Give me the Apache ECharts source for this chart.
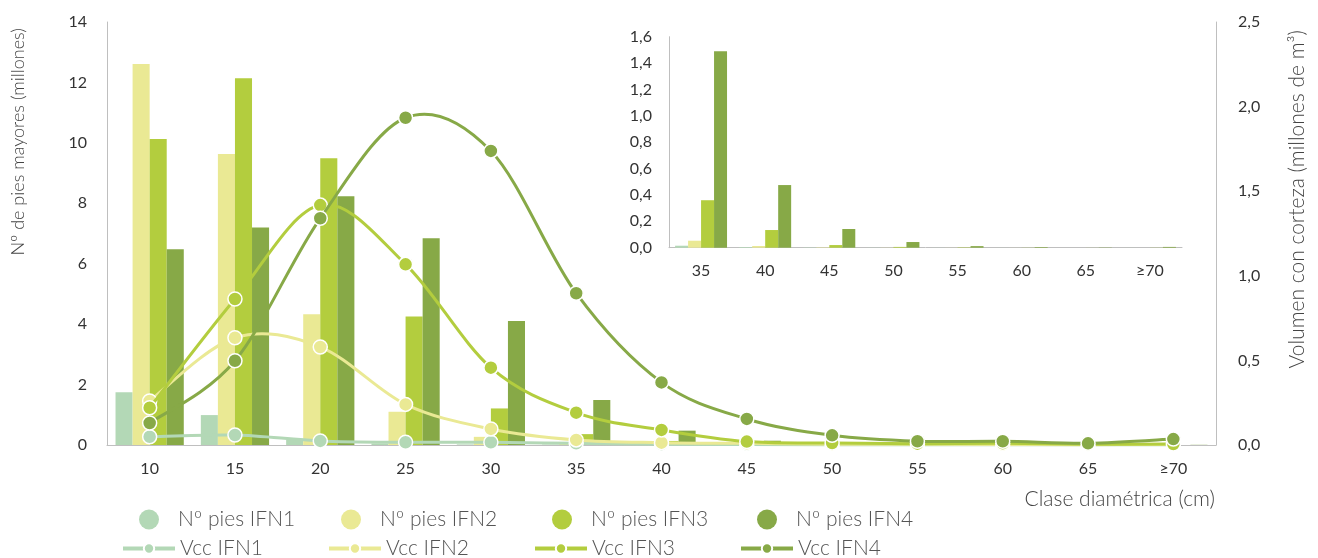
<!DOCTYPE html>
<html>
<head>
<meta charset="utf-8">
<script src="https://cdn.jsdelivr.net/npm/echarts@6/dist/echarts.min.js"></script>
<style>
html,body{margin:0;padding:0;background:#fff;}
#c{width:1318px;height:558px;}
</style>
</head>
<body>
<div id="c"></div>
<script>
// ---- Data ----
const categories = ['10','15','20','25','30','35','40','45','50','55','60','65','≥70'];
const insetStart = 5; // inset shows classes 35 .. ≥70
const leftTicks = [0, 14, 2];   // min, max, interval (millones de pies)
const rightTicks = [0, 2.5, 0.5]; // min, max, interval (millones de m3)
const insetTicks = [0, 1.6, 0.2];

const piesIFN1 = [1.75, 0.99, 0.17, 0.05, 0.02, 0.015, 0.005, 0.002, 0.001, 0.0005, 0.0003, 0.0002, 0.0003];
const piesIFN2 = [12.61, 9.63, 4.33, 1.10, 0.27, 0.053, 0.013, 0.003, 0.001, 0.0005, 0.0003, 0.0002, 0.0002];
const piesIFN3 = [10.13, 12.14, 9.49, 4.25, 1.21, 0.36, 0.134, 0.02, 0.006, 0.003, 0.001, 0.0005, 0.001];
const piesIFN4 = [6.48, 7.20, 8.23, 6.84, 4.10, 1.49, 0.475, 0.142, 0.043, 0.012, 0.005, 0.002, 0.006];

const vccIFN1 = [0.049, 0.059, 0.024, 0.016, 0.016, 0.010, 0.005, 0.003, 0.002, 0.001, 0.001, 0.001, 0.001];
const vccIFN2 = [0.26, 0.634, 0.579, 0.24, 0.095, 0.030, 0.014, 0.010, 0.005, 0.004, 0.003, 0.002, 0.003];
const vccIFN3 = [0.22, 0.863, 1.418, 1.068, 0.457, 0.191, 0.089, 0.020, 0.012, 0.008, 0.010, 0.004, 0.006];
const vccIFN4 = [0.13, 0.498, 1.34, 1.934, 1.738, 0.897, 0.37, 0.154, 0.057, 0.022, 0.022, 0.010, 0.035];

const piesNames = ['Nº pies IFN1', 'Nº pies IFN2', 'Nº pies IFN3', 'Nº pies IFN4'];
const vccNames = ['Vcc IFN1', 'Vcc IFN2', 'Vcc IFN3', 'Vcc IFN4'];
const leftTitle = 'Nº de pies mayores (millones)';
const rightTitle = 'Volumen con corteza (millones de m³)';
const xTitle = 'Clase diamétrica (cm)';

// ---- Style ----
const colors = ['#B3D8B6', '#EAE994', '#B3CD3E', '#87A947'];
const FONT = 'Lato';
const labelColor = '#333';
const axisGray = '#BFBFBF';
const comma = v => v.toFixed(1).replace('.', ',');

const piesData = [piesIFN1, piesIFN2, piesIFN3, piesIFN4];
const vccData = [vccIFN1, vccIFN2, vccIFN3, vccIFN4];

// Spreadsheet-style smoothed segment between point i and i+1 (Catmull-Rom, tension 1/6),
// computed from the data values through the chart's own coordinate system.
function curveRenderer(d, color) {
  return function (params, api) {
    const i = params.dataIndex;
    const n = d.length;
    if (i >= n - 1) return null;
    const P = j => { const k = Math.max(0, Math.min(n - 1, j)); return api.coord([k, d[k]]); };
    const p0 = P(i - 1), p1 = P(i), p2 = P(i + 1), p3 = P(i + 2);
    const t = 1 / 6;
    return {
      type: 'bezierCurve',
      shape: {
        x1: p1[0], y1: p1[1], x2: p2[0], y2: p2[1],
        cpx1: p1[0] + (p2[0] - p0[0]) * t, cpy1: p1[1] + (p2[1] - p0[1]) * t,
        cpx2: p2[0] - (p3[0] - p1[0]) * t, cpy2: p2[1] - (p3[1] - p1[1]) * t
      },
      style: { stroke: color, lineWidth: 3, fill: null, lineCap: 'round' }
    };
  };
}

const series = [];
piesData.forEach((d, i) => {
  series.push({
    name: piesNames[i], type: 'bar', xAxisIndex: 0, yAxisIndex: 0,
    data: d, barGap: '0%', barCategoryGap: '20%',
    itemStyle: { color: colors[i] }, z: 2
  });
});
piesData.forEach((d, i) => {
  series.push({
    name: piesNames[i], type: 'bar', xAxisIndex: 1, yAxisIndex: 2,
    data: d.slice(insetStart), barGap: '0%', barCategoryGap: '19%',
    itemStyle: { color: colors[i] }, z: 2
  });
});
vccData.forEach((d, i) => {
  series.push({
    name: vccNames[i] + ' curva', type: 'custom', xAxisIndex: 0, yAxisIndex: 1,
    data: d.map((v, k) => [k, v]), encode: { x: 0, y: 1 },
    renderItem: curveRenderer(d, colors[i]), z: 3 + i, silent: true
  });
  series.push({
    name: vccNames[i], type: 'line', xAxisIndex: 0, yAxisIndex: 1,
    data: d, symbol: 'circle', symbolSize: 14,
    lineStyle: { color: colors[i], width: 0 },
    itemStyle: { color: colors[i], borderColor: '#fff', borderWidth: 1.5 },
    z: 3 + i
  });
});

// ---- Legends (one per item to place them like the reference) ----
const legends = [];
const row1X = [139, 341, 552, 757];
const row2X = [121, 327, 533, 739];
piesNames.forEach((n, i) => {
  legends.push({
    data: [n], left: row1X[i], top: 509, padding: 0, icon: 'circle',
    itemWidth: 20, itemHeight: 20, selectedMode: false,
    textStyle: { fontFamily: FONT, fontWeight: 300, fontSize: 21, color: '#555', padding: [0, 0, 0, 14] }
  });
});
vccNames.forEach((n, i) => {
  legends.push({
    data: [n], left: row2X[i], top: 538, padding: 0,
    itemWidth: 52, itemHeight: 13, selectedMode: false,
    lineStyle: { width: 4, color: colors[i] },
    textStyle: { fontFamily: FONT, fontWeight: 300, fontSize: 21, color: '#555' }
  });
});

const axLabel = { fontFamily: FONT, fontSize: 16, color: labelColor };

const option = {
  animation: false,
  backgroundColor: '#fff',
  grid: [
    { left: 107, right: 102, top: 22, bottom: 113 },
    { left: 669, top: 36.7, width: 513, height: 211 }
  ],
  xAxis: [
    { type: 'category', gridIndex: 0, data: categories,
      axisLine: { show: true, lineStyle: { color: axisGray, width: 1 } },
      axisTick: { show: false },
      axisLabel: Object.assign({ margin: 16 }, axLabel) },
    { type: 'category', gridIndex: 1, data: categories.slice(insetStart),
      axisLine: { show: true, lineStyle: { color: axisGray, width: 1 } },
      axisTick: { show: false },
      axisLabel: Object.assign({ margin: 15 }, axLabel) }
  ],
  yAxis: [
    { type: 'value', gridIndex: 0, min: leftTicks[0], max: leftTicks[1], interval: leftTicks[2],
      axisLine: { show: true, lineStyle: { color: axisGray } }, axisTick: { show: false },
      splitLine: { show: false },
      axisLabel: Object.assign({ margin: 20 }, axLabel) },
    { type: 'value', gridIndex: 0, position: 'right', min: rightTicks[0], max: rightTicks[1], interval: rightTicks[2],
      axisLine: { show: true, lineStyle: { color: axisGray } }, axisTick: { show: false },
      splitLine: { show: false },
      axisLabel: Object.assign({ margin: 22, formatter: comma }, axLabel) },
    { type: 'value', gridIndex: 1, min: insetTicks[0], max: insetTicks[1], interval: insetTicks[2],
      axisLine: { show: true, lineStyle: { color: axisGray } }, axisTick: { show: false },
      splitLine: { show: false },
      axisLabel: Object.assign({ margin: 17, formatter: comma }, axLabel) }
  ],
  legend: legends,
  graphic: [
    { type: 'text', x: 18, y: 28, rotation: Math.PI / 2,
      style: { text: leftTitle, font: '300 18px ' + FONT, fill: '#444', align: 'right', verticalAlign: 'middle' } },
    { type: 'text', x: 1297, y: 30, rotation: Math.PI / 2,
      style: { text: rightTitle, font: '300 21px ' + FONT, fill: '#444', align: 'right', verticalAlign: 'middle' } },
    { type: 'text', x: 1215, y: 499,
      style: { text: xTitle, font: '300 21px ' + FONT, fill: '#444', align: 'right', verticalAlign: 'middle' } }
  ],
  series: series
};

const chart = echarts.init(document.getElementById('c'), null, { renderer: 'canvas' });
chart.setOption(option);
</script>
</body>
</html>
